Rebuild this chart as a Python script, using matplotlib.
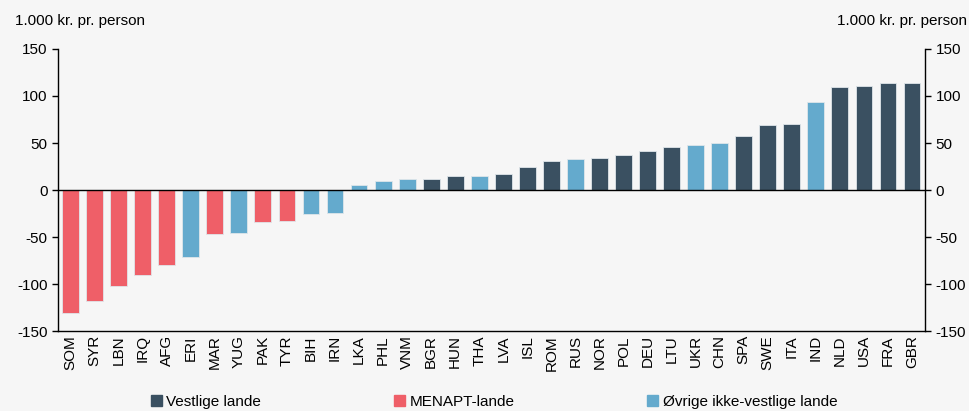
import numpy as np
import matplotlib.pyplot as plt
from matplotlib.patches import Patch

plt.rcParams['font.family'] = ['Liberation Sans', 'DejaVu Sans']
plt.rcParams['axes.unicode_minus'] = False

countries = ['SOM', 'SYR', 'LBN', 'IRQ', 'AFG', 'ERI', 'MAR', 'YUG', 'PAK', 'TYR',
             'BIH', 'IRN', 'LKA', 'PHL', 'VNM', 'BGR', 'HUN', 'THA', 'LVA', 'ISL',
             'ROM', 'RUS', 'NOR', 'POL', 'DEU', 'LTU', 'UKR', 'CHN', 'SPA', 'SWE',
             'ITA', 'IND', 'NLD', 'USA', 'FRA', 'GBR']
values = [-130.5, -118, -102.5, -90.5, -79.5, -71.5, -47, -46, -34.5, -32.5,
          -26, -24, 5.7, 9.2, 11.7, 11.8, 14.9, 14.9, 17.4, 24.1,
          30.5, 33, 34, 37.2, 41.8, 45.4, 47.5, 50.4, 57, 68.8,
          69.9, 93.3, 109.2, 110.3, 113.5, 113.8]
# V = vestlige, M = MENAPT, O = øvrige ikke-vestlige
groups = ['M', 'M', 'M', 'M', 'M', 'O', 'M', 'O', 'M', 'M',
          'O', 'O', 'O', 'O', 'O', 'V', 'V', 'O', 'V', 'V',
          'V', 'O', 'V', 'V', 'V', 'V', 'O', 'O', 'V', 'V',
          'V', 'O', 'V', 'V', 'V', 'V']

colors = {'V': '#3a5061', 'M': '#ef5f68', 'O': '#64aacd'}
labels = {'V': 'Vestlige lande', 'M': 'MENAPT-lande', 'O': 'Øvrige ikke-vestlige lande'}
bg = '#f6f6f6'
fs = 11

fig = plt.figure(figsize=(9.69, 4.11), dpi=100, facecolor=bg)
ax = fig.add_axes([0.0599, 0.1946, 0.8947, 0.6862], facecolor=bg)

x = np.arange(len(countries))
ax.bar(x, values, width=0.7, color=[colors[g] for g in groups],
       edgecolor='#dfe6ea', linewidth=0.6, zorder=2)
ax.axhline(0, color='black', linewidth=1, zorder=3)

ax.set_xlim(-0.52, len(countries) - 0.46)
ax.set_ylim(-150, 150)
ax.set_yticks([-150, -100, -50, 0, 50, 100, 150])
ax.set_xticks(x)
ax.set_xticklabels(countries, rotation=90, fontsize=fs)
ax.tick_params(axis='x', length=0, pad=3)
ax.tick_params(axis='y', labelsize=fs, length=4, width=1, direction='out',
               left=True, right=True, labelleft=True, labelright=True)
ax.spines['top'].set_visible(False)
for s in ['left', 'right', 'bottom']:
    ax.spines[s].set_color('black')
    ax.spines[s].set_linewidth(1)

fig.text(0.015, 0.948, '1.000 kr. pr. person', fontsize=fs, va='center', ha='left')
fig.text(0.998, 0.948, '1.000 kr. pr. person', fontsize=fs, va='center', ha='right')

for key, xpos in [('V', 0.156), ('M', 0.407), ('O', 0.668)]:
    leg = fig.legend(handles=[Patch(color=colors[key], label=labels[key])],
                     loc='center left', bbox_to_anchor=(xpos, 0.022),
                     frameon=False, fontsize=fs, handlelength=0.7,
                     handleheight=0.7, handletextpad=0.3, borderpad=0,
                     borderaxespad=0)

fig.savefig('out.png', dpi=100, facecolor=bg)
